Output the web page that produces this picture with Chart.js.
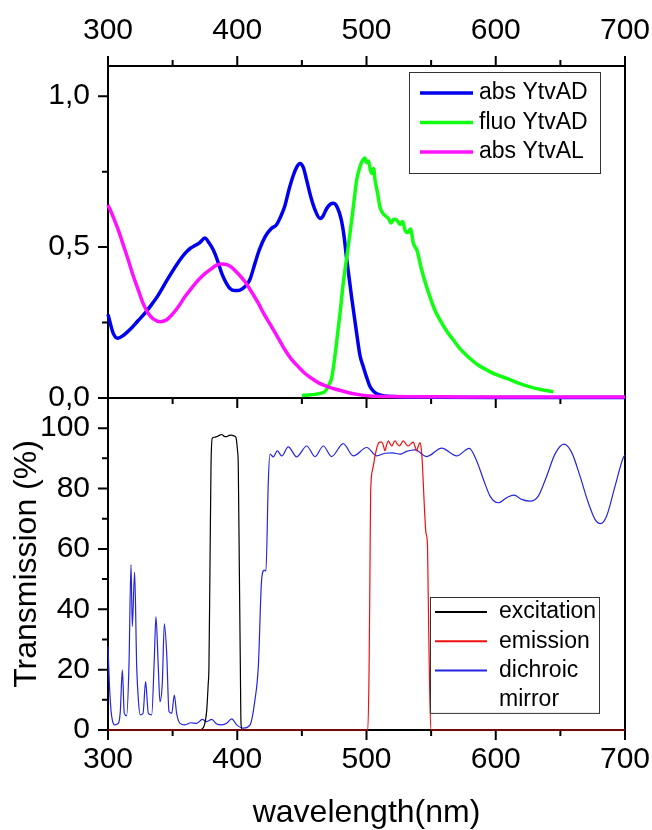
<!DOCTYPE html>
<html>
<head>
<meta charset="utf-8">
<script src="https://cdn.jsdelivr.net/npm/chart.js@4.4.1/dist/chart.umd.min.js"></script>
<style>
  html, body { margin: 0; padding: 0; background: #fff; }
</style>
</head>
<body>
<canvas id="chart" width="652" height="830"></canvas>
<script>
// Tick values ---------------------
const xMajor = [300, 400, 500, 600, 700];
const xMinor = [350, 450, 550, 650];
const absMajor = [0, 0.5, 1.0];
const absMinor = [0.25, 0.75];
const transMajor = [0, 20, 40, 60, 80, 100];
const transMinor = [10, 30, 50, 70, 90];

// Top panel: abs YtvAD --------------
const absAdWl = [300, 304, 307.5, 312, 318, 323, 328.6, 334, 338.9, 346, 353, 359.6, 364, 367.3, 371, 375, 378, 381.5, 385, 388, 391, 394.4, 398, 400.8, 404, 407.3, 410, 413.7, 417, 421.5, 426, 430.5, 434, 437, 440, 443.4, 446, 448.5, 451, 453.7, 457, 460.2, 464, 466, 469.2, 472, 474.3, 477, 480.5, 482.5, 484.7, 488.6, 492.4, 495, 497.5, 500, 502.7, 506, 510.4, 520, 550, 600, 700];
const absAdVal = [0.277, 0.215, 0.198, 0.208, 0.231, 0.255, 0.281, 0.311, 0.341, 0.393, 0.441, 0.479, 0.497, 0.505, 0.515, 0.530, 0.515, 0.490, 0.452, 0.413, 0.385, 0.363, 0.356, 0.356, 0.362, 0.375, 0.395, 0.446, 0.490, 0.534, 0.560, 0.575, 0.605, 0.639, 0.690, 0.738, 0.765, 0.777, 0.765, 0.722, 0.665, 0.623, 0.595, 0.600, 0.628, 0.642, 0.645, 0.635, 0.590, 0.540, 0.460, 0.330, 0.214, 0.140, 0.104, 0.070, 0.038, 0.020, 0.010, 0.005, 0.003, 0.002, 0.002];

// Top panel: fluo YtvAD --------------
const fluoAdWl = [450, 455, 460, 465, 468, 471, 473, 475, 477, 479.5, 482, 484.5, 487.2, 490, 492.4, 494.5, 496.3, 497.5, 498.8, 500, 501.5, 503, 504, 505.5, 506.6, 508.5, 510.4, 513, 516.9, 519, 521, 523.4, 526, 528, 529.8, 532, 534, 536.3, 539, 542.7, 546, 549.1, 553, 556.9, 562, 567.2, 573, 580.1, 586, 593, 600, 608.5, 617, 626.5, 635, 644.5];
const fluoAdVal = [0.008, 0.010, 0.012, 0.016, 0.022, 0.045, 0.065, 0.120, 0.190, 0.280, 0.380, 0.460, 0.545, 0.640, 0.722, 0.760, 0.782, 0.790, 0.795, 0.780, 0.785, 0.755, 0.744, 0.760, 0.722, 0.680, 0.633, 0.610, 0.595, 0.580, 0.592, 0.589, 0.575, 0.585, 0.556, 0.548, 0.560, 0.512, 0.490, 0.424, 0.375, 0.335, 0.290, 0.258, 0.222, 0.192, 0.160, 0.131, 0.110, 0.093, 0.078, 0.065, 0.050, 0.037, 0.028, 0.021];

// Top panel: abs YtvAL --------------
const absAlWl = [300, 304, 308, 312, 315.7, 319.5, 323.4, 327, 331.2, 335, 340.2, 345, 349.3, 354, 359.6, 365, 369.9, 375, 380.2, 384, 388, 392, 395.7, 400, 406, 411, 416.3, 421, 426.6, 432, 437, 442, 447.2, 452, 457.6, 463, 470.4, 477, 484.7, 493, 502.7, 520, 560, 620, 700];
const absAlVal = [0.640, 0.600, 0.556, 0.505, 0.457, 0.405, 0.358, 0.315, 0.280, 0.262, 0.253, 0.258, 0.275, 0.300, 0.336, 0.366, 0.391, 0.412, 0.429, 0.440, 0.444, 0.442, 0.433, 0.415, 0.385, 0.352, 0.314, 0.276, 0.236, 0.196, 0.159, 0.128, 0.104, 0.083, 0.065, 0.050, 0.037, 0.028, 0.019, 0.012, 0.007, 0.005, 0.004, 0.003, 0.003];

// Bottom panel: excitation filter -----
const excWl = [300, 370, 372.5, 374.5, 376.4, 377.5, 378.1, 378.9, 379.7, 380.7, 382.4, 384.1, 386, 388, 390, 391.8, 393.7, 395.7, 397.5, 399, 400.1, 400.8, 401.6, 402.4, 402.9, 404, 700];
const excVal = [0, 0, 0.3, 1.5, 6.6, 15, 21, 54, 87.5, 96.7, 97.0, 97.2, 97.6, 97.9, 97.3, 97.2, 97.6, 97.7, 97.4, 96.9, 93, 87.5, 54, 21, 2.2, 0, 0];

// Bottom panel: emission filter -------
const emWl = [300, 501, 502, 502.7, 503.2, 504.8, 506.6, 508.4, 510, 511.8, 513.2, 514.3, 515.6, 516.9, 518.2, 519.5, 520.8, 522.1, 523.7, 525.4, 527, 528.5, 530.4, 532.3, 534.2, 536.2, 537.5, 538.8, 540, 541.4, 542.4, 543.2, 544.5, 546, 547.1, 547.8, 548.8, 549.8, 700];
const emVal = [0, 0, 20, 54.3, 78.6, 86.4, 90.8, 94.1, 95.4, 95.4, 94, 92.5, 94.5, 95.8, 94.9, 94.1, 95, 95.8, 94.8, 94.1, 95, 95.8, 94.8, 94.1, 94.8, 95.4, 94, 92.5, 94, 95.2, 93, 88.6, 76.4, 65.3, 62, 43.2, 15, 0, 0];

// Bottom panel: dichroic mirror -------
const dichWl = [300, 301, 302.3, 303.5, 304.9, 308, 309.5, 311.1, 312.6, 314.4, 316.2, 317.8, 318.8, 320.6, 322.2, 323.5, 324.8, 327.1, 329.1, 331.2, 333.8, 335.8, 337.1, 338.9, 340.2, 342, 343.6, 345.4, 347.2, 349.3, 351.3, 353.1, 355.7, 359.6, 364.2, 368.6, 373, 376.4, 380.2, 384.1, 388, 391.8, 395.7, 399.6, 404.7, 409.9, 413.7, 416.3, 418.9, 420.9, 422.2, 424, 425.3, 427.9, 431, 434.4, 439.5, 446, 453.7, 460.2, 466.6, 473, 482, 489.8, 500.2, 507.9, 514.3, 520, 525.9, 531, 537.5, 546.6, 558.2, 569.8, 579.5, 585.2, 590.4, 595.6, 602, 608.5, 614.1, 620.1, 626.5, 632.9, 639.4, 645.8, 652.8, 658.8, 665.2, 671.6, 676.8, 681.2, 685.8, 692.3, 698.7, 700];
const dichVal = [27.7, 16, 6.6, 3, 1.7, 2.2, 6, 19.9, 5.5, 4.7, 21, 54.8, 34.3, 52.3, 21, 10, 5, 5.5, 16, 5.5, 5, 23.3, 37.6, 21, 9.4, 15.5, 35.2, 25.5, 6.1, 5.5, 11.6, 5.5, 2.2, 1.7, 2.4, 2.2, 3.5, 2.8, 3.5, 2, 1.7, 2.2, 3.7, 1.7, 0.6, 1.7, 10, 21, 50, 53, 52.6, 82, 91.4, 90.5, 92.5, 90.8, 93.8, 90.5, 94.1, 90.6, 94.1, 90.6, 94.9, 90.8, 93.6, 90.8, 91.7, 91.8, 91.4, 92.3, 92.8, 90.6, 93.4, 90.8, 93.3, 89.2, 83.1, 77.5, 75.3, 77, 77.8, 76.4, 75.8, 77.5, 84.1, 91.4, 94.7, 91.9, 84.1, 75.3, 69.8, 68.4, 70.9, 80.8, 90.3, 91];

const FONT = 'Arial, "Liberation Sans", sans-serif';

const toPoints = (wl, val) => wl.map((w, i) => ({ x: w, y: val[i] }));
const fmtComma = v => v.toFixed(1).replace('.', ',');

const line = (label, wl, val, color, width, yAxisID, order) => ({
  label,
  data: toPoints(wl, val),
  borderColor: color,
  backgroundColor: color,
  borderWidth: width,
  pointRadius: 0,
  cubicInterpolationMode: 'monotone',
  xAxisID: 'x',
  yAxisID,
  order,
  clip: false,
});

// legends inside the panels (offsets from the panel's right/top edge)
const legendBoxes = [
  { axis: 'yAbs', right: 25, top: 6, width: 191, padTop: 21, padBottom: 21, rowH: 29.5, inset: 11, lineLen: 53, gap: 6, lineW: 3.5, fontSize: 23,
    rows: [['abs YtvAD', 0], ['fluo YtvAD', 1], ['abs YtvAL', 2]] },
  { axis: 'yTrans', right: 26, top: 199, width: 169, padTop: 15, padBottom: 13, rowH: 29.3, inset: 5, lineLen: 52, gap: 12, lineW: 2, fontSize: 23,
    rows: [['excitation', 3], ['emission', 4], ['dichroic', 5], ['mirror', -1]] },
];

const framePlugin = {
  id: 'frameTicks',
  beforeDatasetsDraw(chart) {
    const { ctx, chartArea: a, scales } = chart;
    const x = scales.x;
    const yA = scales.yAbs;
    const yT = scales.yTrans;
    const mid = yA.bottom;
    ctx.save();
    ctx.strokeStyle = '#000';
    ctx.lineWidth = 2;
    ctx.strokeRect(a.left, a.top, a.right - a.left, a.bottom - a.top);
    ctx.beginPath();
    ctx.moveTo(a.left, mid);
    ctx.lineTo(a.right, mid);
    const seg = (x1, y1, x2, y2) => { ctx.moveTo(x1, y1); ctx.lineTo(x2, y2); };
    const xt = (list, len) => list.forEach(v => {
      const px = x.getPixelForValue(v);
      seg(px, a.top, px, a.top - len);
      seg(px, a.bottom, px, a.bottom + len);
      seg(px, mid, px, mid + len);
    });
    xt(xMajor, 10);
    xt(xMinor, 6);
    absMajor.forEach(v => { const py = yA.getPixelForValue(v); seg(a.left - 10, py, a.left, py); });
    absMinor.forEach(v => { const py = yA.getPixelForValue(v); seg(a.left - 6, py, a.left, py); });
    transMajor.forEach(v => { const py = yT.getPixelForValue(v); seg(a.left - 10, py, a.left, py); });
    transMinor.forEach(v => { const py = yT.getPixelForValue(v); seg(a.left - 6, py, a.left, py); });
    ctx.stroke();
    ctx.restore();
  },
  afterDraw(chart) {
    const { ctx, chartArea: a, scales } = chart;
    const sets = chart.data.datasets;
    ctx.save();
    legendBoxes.forEach(lg => {
      const panel = scales[lg.axis];
      const left = a.right - lg.right - lg.width;
      const top = panel.top + lg.top;
      const h = lg.padTop + (lg.rows.length - 1) * lg.rowH + lg.padBottom;
      ctx.fillStyle = '#fff';
      ctx.fillRect(left, top, lg.width, h);
      ctx.strokeStyle = '#333';
      ctx.lineWidth = 1;
      ctx.strokeRect(left + 0.5, top + 0.5, lg.width, h);
      ctx.font = `${lg.fontSize}px ${FONT}`;
      ctx.textBaseline = 'middle';
      ctx.textAlign = 'left';
      lg.rows.forEach(([text, idx], i) => {
        const cy = top + lg.padTop + lg.rowH * i;
        const lx = left + lg.inset;
        if (idx >= 0) {
          ctx.strokeStyle = sets[idx].borderColor;
          ctx.lineWidth = lg.lineW;
          ctx.beginPath();
          ctx.moveTo(lx, cy);
          ctx.lineTo(lx + lg.lineLen, cy);
          ctx.stroke();
        }
        ctx.fillStyle = '#000';
        ctx.fillText(text, lx + lg.lineLen + lg.gap, cy);
      });
    });
    ctx.restore();
  },
};

const tickFont = { family: FONT, size: 30 };
const titleFont = { family: FONT, size: 32, lineHeight: 1 };
const noSidePadding = s => { s.paddingLeft = 0; s.paddingRight = 0; };

new Chart(document.getElementById('chart'), {
  type: 'line',
  data: {
    datasets: [
      line('abs YtvAD', absAdWl, absAdVal, '#0000f0', 3.5, 'yAbs', 3),
      line('fluo YtvAD', fluoAdWl, fluoAdVal, '#10ff10', 3.5, 'yAbs', 2),
      line('abs YtvAL', absAlWl, absAlVal, '#ff10ff', 3.5, 'yAbs', 1),
      line('excitation', excWl, excVal, '#000000', 1.2, 'yTrans', 2),
      line('emission', emWl, emVal, '#ee1010', 1.2, 'yTrans', 1),
      line('dichroic mirror', dichWl, dichVal, '#2525e0', 1.2, 'yTrans', 3),
    ],
  },
  options: {
    responsive: false,
    animation: false,
    devicePixelRatio: 1,
    layout: { padding: { right: 27, left: 0, top: 0, bottom: 0 } },
    plugins: { legend: { display: false }, tooltip: { enabled: false } },
    scales: {
      x: {
        type: 'linear', position: 'bottom', min: 300, max: 700,
        afterBuildTicks: s => { s.ticks = xMajor.map(v => ({ value: v })); },
        afterFit: s => { s.height = 100; noSidePadding(s); },
        grid: { display: false, drawTicks: false },
        border: { display: false },
        ticks: { font: tickFont, color: '#000', padding: 12, autoSkip: false, maxRotation: 0 },
        title: { display: true, text: 'wavelength(nm)', font: titleFont, color: '#000', padding: { bottom: 1 } },
      },
      xTop: {
        type: 'linear', position: 'top', min: 300, max: 700,
        afterBuildTicks: s => { s.ticks = xMajor.map(v => ({ value: v })); },
        afterFit: s => { s.height = 66; noSidePadding(s); },
        grid: { display: false, drawTicks: false },
        border: { display: false },
        ticks: { font: tickFont, color: '#000', padding: 17, autoSkip: false, maxRotation: 0 },
      },
      yTrans: {
        type: 'linear', position: 'left', stack: 'panels', stackWeight: 1, min: 0, max: 110,
        afterBuildTicks: s => { s.ticks = transMajor.map(v => ({ value: v })); },
        afterFit: s => { s.width = 108; },
        grid: { display: false, drawTicks: false },
        border: { display: false },
        ticks: { font: tickFont, color: '#000', padding: 18, autoSkip: false },
        title: { display: true, text: 'Transmission (%)', font: titleFont, color: '#000', padding: { top: 11 } },
      },
      yAbs: {
        type: 'linear', position: 'left', stack: 'panels', stackWeight: 1, min: 0, max: 1.1,
        afterBuildTicks: s => { s.ticks = absMajor.map(v => ({ value: v })); },
        afterFit: s => { s.width = 108; },
        grid: { display: false, drawTicks: false },
        border: { display: false },
        ticks: { font: tickFont, color: '#000', padding: 18, autoSkip: false, callback: v => fmtComma(v) },
      },
    },
  },
  plugins: [framePlugin],
});
</script>
</body>
</html>
